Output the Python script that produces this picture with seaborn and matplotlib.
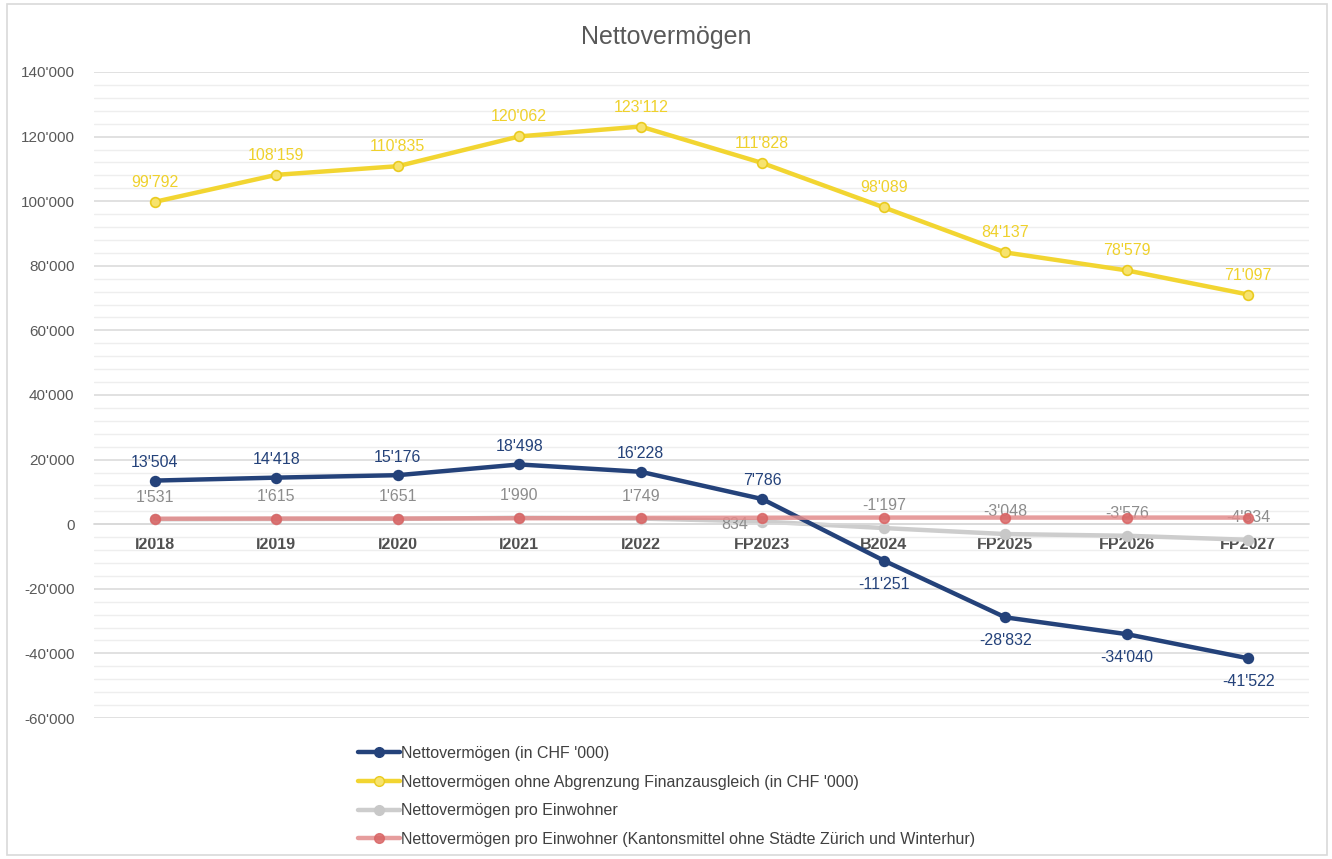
import matplotlib
matplotlib.use("Agg")
import matplotlib.pyplot as plt
import seaborn as sns
import pandas as pd
import numpy as np
from matplotlib.ticker import FuncFormatter, MultipleLocator
from matplotlib.lines import Line2D
from matplotlib.patches import Rectangle

categories = ["I2018", "I2019", "I2020", "I2021", "I2022", "FP2023", "B2024", "FP2025", "FP2026", "FP2027"]
netto = [13504, 14418, 15176, 18498, 16228, 7786, -11251, -28832, -34040, -41522]
netto_ohne = [99792, 108159, 110835, 120062, 123112, 111828, 98089, 84137, 78579, 71097]
pro_einwohner = [1531, 1615, 1651, 1990, 1749, 834, -1197, -3048, -3576, -4834]
kantonsmittel = [1700, 1750, 1750, 1850, 1950, 2000, 2050, 2050, 2050, 2050]

names = [
    "Nettovermögen (in CHF '000)",
    "Nettovermögen ohne Abgrenzung Finanzausgleich (in CHF '000)",
    "Nettovermögen pro Einwohner",
    "Nettovermögen pro Einwohner (Kantonsmittel ohne Städte Zürich und Winterhur)",
]

sns.set_theme(style="white")
plt.rcParams["font.family"] = ["Liberation Sans", "DejaVu Sans"]

def fmt(v, pos=None):
    return f"{int(round(v)):,}".replace(",", "'")

fig = plt.figure(figsize=(13.32, 8.59), dpi=100)
ax = fig.add_axes([94 / 1332, 1 - 718 / 859, (1309 - 94) / 1332, (718 - 72) / 859])

x = np.arange(len(categories))
styles = [
    ("#24427a", "#24427a", "#24427a", 1.0, 4),
    ("#f2d531", "#f7e36e", "#eacb1f", 1.0, 3),
    ("#cdcdcd", "#c8c8c8", "#c8c8c8", 1.0, 2),
    ("#e28c8c", "#d96565", "#d96565", 0.85, 5),
]
all_vals = [netto, netto_ohne, pro_einwohner, kantonsmittel]

handles = []
for vals, (lc, mfc, mec, alpha, z) in zip(all_vals, styles):
    df = pd.DataFrame({"x": x, "y": vals})
    sns.lineplot(data=df, x="x", y="y", ax=ax, color=lc, lw=3.2, marker="o",
                 markersize=7, markerfacecolor=mfc, markeredgecolor=mec,
                 markeredgewidth=1.2, alpha=alpha, zorder=z, legend=False)
    handles.append(Line2D([], [], color=lc, lw=3.2, marker="o", markersize=7,
                          markerfacecolor=mfc, markeredgecolor=mec, alpha=alpha))

# data labels
label_kw = dict(fontsize=11.5, ha="center", textcoords="offset points")
for i, v in enumerate(netto):
    off = 13 if i <= 5 else -17
    ax.annotate(fmt(v), (x[i], v), xytext=(0, off), va="center", color="#24427a", **label_kw)
for i, v in enumerate(netto_ohne):
    ax.annotate(fmt(v), (x[i], v), xytext=(0, 14), va="center", color="#efd12c", **label_kw)
for i, v in enumerate(pro_einwohner):
    if i == 5:
        ax.annotate(fmt(v), (x[i], v), xytext=(-10, -2), va="center", color="#8c8c8c",
                    fontsize=11.5, ha="right", textcoords="offset points")
    else:
        ax.annotate(fmt(v), (x[i], v), xytext=(0, 16), va="center", color="#8c8c8c", **label_kw)

ax.set_xlim(-0.5, len(categories) - 0.5)
ax.set_ylim(-60000, 140000)
ax.yaxis.set_major_locator(MultipleLocator(20000))
ax.yaxis.set_minor_locator(MultipleLocator(4000))
ax.yaxis.set_major_formatter(FuncFormatter(fmt))
ax.grid(axis="y", which="major", color="#d9d9d9", lw=1.1, zorder=0)
ax.grid(axis="y", which="minor", color="#eeeeee", lw=1.0, zorder=0)
ax.set_axisbelow(True)
for s in ["top", "right", "left"]:
    ax.spines[s].set_visible(False)
ax.spines["bottom"].set_position(("data", 0))
ax.spines["bottom"].set_color("#d9d9d9")
ax.spines["bottom"].set_linewidth(1.1)
ax.set_xticks(x)
ax.set_xticklabels(categories, fontweight="bold", color="#505050", fontsize=11.5)
ax.tick_params(axis="x", length=0, pad=9)
ax.tick_params(axis="y", length=0, pad=14, labelsize=11, labelcolor="#595959")
ax.set_xlabel("")
ax.set_ylabel("")

fig.text(0.5, 1 - 37 / 859, "Nettovermögen", ha="center", va="center", fontsize=18, color="#595959")

leg = fig.legend(handles, names, loc="upper left", bbox_to_anchor=(358 / 1332, 1 - 746 / 859),
                 frameon=False, fontsize=11.5, handlelength=2.6, handletextpad=0.1,
                 labelspacing=0.85, numpoints=1, borderaxespad=0, borderpad=0)
for t in leg.get_texts():
    t.set_color("#404040")

fig.patches.append(Rectangle((7 / 1332, 4 / 859), 1320 / 1332, 851 / 859, transform=fig.transFigure,
                             fill=False, edgecolor="#d9d9d9", lw=1.2))

fig.savefig("out.png", dpi=100)
